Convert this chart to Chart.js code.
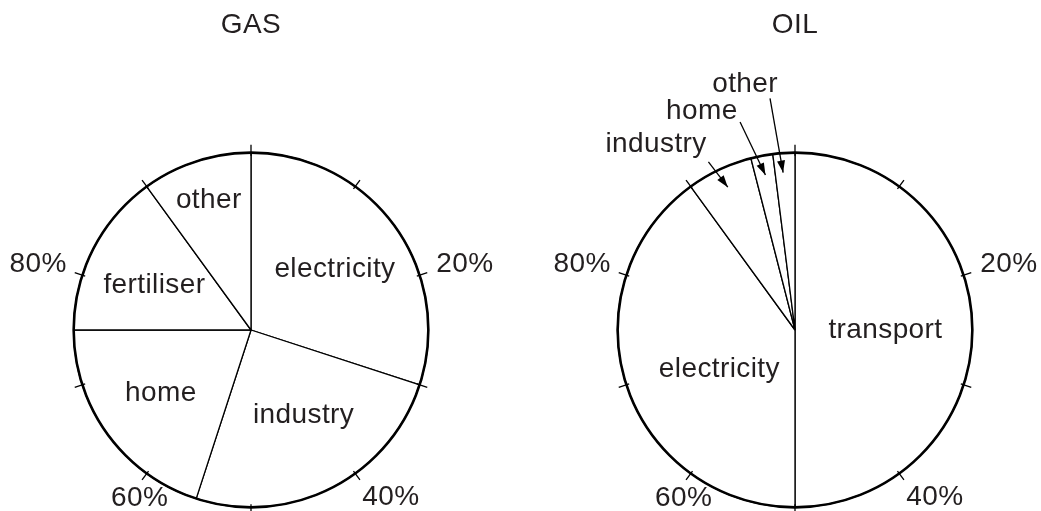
<!DOCTYPE html>
<html>
<head>
<meta charset="utf-8">
<script src="https://cdn.jsdelivr.net/npm/chart.js@4"></script>
<style>
  html, body { margin: 0; padding: 0; background: #fff; }
  #wrap { position: relative; width: 1041px; height: 511px; }
  .box { position: absolute; top: 0; height: 511px; }
</style>
</head>
<body>
<div id="wrap">
  <div class="box" style="left:0;width:520px"><canvas id="gasChart" width="520" height="511"></canvas></div>
  <div class="box" style="left:520px;width:521px"><canvas id="oilChart" width="521" height="511"></canvas></div>
</div>
<script>
// values (percent of each fuel)
const gasLabels = ['electricity', 'industry', 'home', 'fertiliser', 'other'];
const gasValues = [30, 25, 20, 15, 10];

const oilLabels = ['transport', 'electricity', 'industry', 'home', 'other'];
const oilValues = [50, 40, 6, 2, 2];

const tickValues = [20, 40, 60, 80];
const tickLabels = ['20%', '40%', '60%', '80%'];

const INK = '#000';
const TEXT = '#231f20';
const FONT = '28px "Liberation Sans", Arial, sans-serif';

// where the % labels sit round the ring: [fraction of turn, radius factor]
const tickLabelSpots = [[0.2024, 1.262], [0.3892, 1.23], [0.5932, 1.136], [0.7978, 1.256]];

// label placement per slice (kept out of chart options so Chart.js doesn't proxy them)
const gasSpots = [
  { callout: false, r: 0.585, shift: 0 },
  { callout: false, r: 0.565, shift: -0.013 },
  { callout: false, r: 0.62, shift: 0.003 },
  { callout: false, r: 0.60, shift: -0.006 },
  { callout: false, r: 0.77, shift: 0 },
];
const oilSpots = [
  { callout: false, r: 0.51, shift: 0 },
  { callout: false, r: 0.48, shift: -0.026 },
  { callout: true, tail: [0.9243, 1.066], label: [0.8978, 1.308], tipShift: 0 },
  { callout: true, tail: [0.9589, 1.213], label: [0.9359, 1.341], tipShift: 0 },
  { callout: true, tail: [0.9829, 1.313], label: [0.9681, 1.414], tipShift: -0.002 },
];

const decorByCanvas = {
  gasChart: { title: 'GAS', titleY: 25, spots: gasSpots },
  oilChart: { title: 'OIL', titleY: 25, spots: oilSpots },
};

// draws the ring, ticks, titles, slice names and arrows on top of the pie
const pieDecor = {
  id: 'pieDecor',
  afterDraw(chart) {
    const opts = decorByCanvas[chart.canvas.id];
    const ctx = chart.ctx;
    const arcs = chart.getDatasetMeta(0).data;
    const cx = arcs[0].x, cy = arcs[0].y, r = arcs[0].outerRadius;
    const ang = f => -Math.PI / 2 + f * 2 * Math.PI;
    const pt = (f, rf) => [cx + r * rf * Math.cos(ang(f)), cy + r * rf * Math.sin(ang(f))];

    ctx.save();
    ctx.strokeStyle = INK;
    ctx.lineWidth = 2.6;
    ctx.beginPath();
    ctx.arc(cx, cy, r, 0, 2 * Math.PI);
    ctx.stroke();

    // tick marks every 10%
    ctx.lineWidth = 1.3;
    for (let i = 0; i < 10; i++) {
      const [x1, y1] = pt(i / 10, 1 - 3 / r);
      const [x2, y2] = pt(i / 10, 1 + 8 / r);
      ctx.beginPath();
      ctx.moveTo(x1, y1);
      ctx.lineTo(x2, y2);
      ctx.stroke();
    }

    ctx.font = FONT;
    ctx.fillStyle = TEXT;
    ctx.textAlign = 'center';
    ctx.textBaseline = 'middle';
    ctx.letterSpacing = '0.4px';

    ctx.fillText(opts.title, cx, opts.titleY);

    tickValues.forEach((v, i) => {
      const [x, y] = pt(tickLabelSpots[i][0], tickLabelSpots[i][1]);
      ctx.fillText(tickLabels[i], x, y);
    });

    const labels = chart.data.labels;
    arcs.forEach((arc, i) => {
      const spot = opts.spots[i];
      const mid = ((arc.startAngle + arc.endAngle) / 2 + Math.PI / 2) / (2 * Math.PI);
      if (spot.callout) {
        const [lx, ly] = pt(spot.label[0], spot.label[1]);
        ctx.fillText(labels[i], lx, ly);
        const [tx, ty] = pt(spot.tail[0], spot.tail[1]);
        const [hx, hy] = pt(mid + spot.tipShift, 0.89);
        ctx.beginPath();
        ctx.moveTo(tx, ty);
        ctx.lineTo(hx, hy);
        ctx.stroke();
        // arrow head
        const a = Math.atan2(hy - ty, hx - tx);
        const len = 12, w = 4;
        ctx.beginPath();
        ctx.moveTo(hx, hy);
        ctx.lineTo(hx - len * Math.cos(a) + w * Math.sin(a), hy - len * Math.sin(a) - w * Math.cos(a));
        ctx.lineTo(hx - len * Math.cos(a) - w * Math.sin(a), hy - len * Math.sin(a) + w * Math.cos(a));
        ctx.closePath();
        ctx.fillStyle = INK;
        ctx.fill();
        ctx.fillStyle = TEXT;
      } else {
        const [x, y] = pt(mid + spot.shift, spot.r);
        ctx.fillText(labels[i], x, y);
      }
    });
    ctx.restore();
  }
};

function makePie(canvasId, labels, values, padding) {
  const canvas = document.getElementById(canvasId);
  return new Chart(canvas, {
    type: 'pie',
    data: {
      labels: labels,
      datasets: [{
        data: values,
        backgroundColor: '#fff',
        borderColor: INK,
        borderWidth: 1.3,
        hoverOffset: 0,
      }],
    },
    options: {
      responsive: false,
      animation: false,
      layout: { padding: padding },
      plugins: {
        legend: { display: false },
        tooltip: { enabled: false },
      },
    },
    plugins: [pieDecor],
  });
}

makePie('gasChart', gasLabels, gasValues, { left: 73, right: 91, top: 152, bottom: 3 });
makePie('oilChart', oilLabels, oilValues, { left: 97, right: 68, top: 152, bottom: 3 });
</script>
</body>
</html>
